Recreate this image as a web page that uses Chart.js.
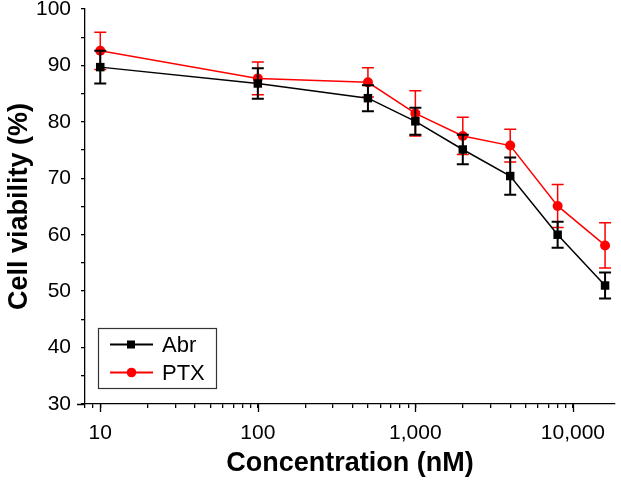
<!DOCTYPE html>
<html>
<head>
<meta charset="utf-8">
<title>Cell viability</title>
<script src="https://cdn.jsdelivr.net/npm/chart.js@4.4.1/dist/chart.umd.min.js"></script>
<style>
  html, body { margin: 0; padding: 0; background: #fff; }
  #wrap { width: 621px; height: 480px; }
</style>
</head>
<body>
<div id="wrap"><canvas id="myChart" width="621" height="480"></canvas></div>
<script>
// data
const concentrations = [10, 100, 500, 1000, 2000, 4000, 8000, 16000];
const abrValues = [89.7, 86.8, 84.2, 80.1, 75.1, 70.4, 60.0, 51.0];
const abrErrors = [2.9, 2.7, 2.3, 2.4, 2.6, 3.3, 2.3, 2.3];
const ptxValues = [92.6, 87.7, 87.0, 81.5, 77.5, 75.8, 65.1, 58.1];
const ptxErrors = [3.3, 2.9, 2.6, 4.0, 3.3, 2.9, 3.8, 4.0];
const xMajorTicks = [10, 100, 1000, 10000];
const yTickLabels = [30, 40, 50, 60, 70, 80, 90, 100];

const FONT = "'Liberation Sans', Arial, sans-serif";

// minor + major ticks for the log axis
var xTicks = [];
[1, 10, 100, 1000].forEach(function (d) {
  for (var m = 1; m <= 9; m++) {
    var v = d * m;
    if (v >= 8 && v <= 10000) xTicks.push(v);
  }
});
xTicks.push(10000);

function points(vals) {
  return concentrations.map(function (c, i) { return {x: c, y: vals[i]}; });
}

// error bars, drawn under each dataset
const errorBars = {
  id: 'errorBars',
  beforeDatasetDraw(chart, args) {
    const ds = chart.data.datasets[args.index];
    const xs = chart.scales.x, ys = chart.scales.y;
    const ctx = chart.ctx;
    ctx.save();
    ctx.strokeStyle = ds.borderColor;
    ctx.lineWidth = ds.errWidth;
    ds.data.forEach(function (p, i) {
      const px = xs.getPixelForValue(p.x);
      const top = ys.getPixelForValue(p.y + ds.errors[i]);
      const bot = ys.getPixelForValue(p.y - ds.errors[i]);
      ctx.beginPath();
      ctx.moveTo(px, top); ctx.lineTo(px, bot);
      ctx.moveTo(px - 6, top); ctx.lineTo(px + 6, top);
      ctx.moveTo(px - 6, bot); ctx.lineTo(px + 6, bot);
      ctx.stroke();
    });
    ctx.restore();
  }
};

// longer major ticks + legend box inside the plot
const extras = {
  id: 'extras',
  afterDraw(chart) {
    const ctx = chart.ctx;
    const xs = chart.scales.x;
    const area = chart.chartArea;
    ctx.save();
    ctx.strokeStyle = '#000';
    ctx.lineWidth = 1.3;
    ctx.beginPath();
    xMajorTicks.forEach(function (v) {
      const px = Math.round(xs.getPixelForValue(v)) + 0.5;
      ctx.moveTo(px, area.bottom); ctx.lineTo(px, area.bottom + 8);
    });
    ctx.moveTo(area.left - 8, area.bottom + 0.5); ctx.lineTo(area.left, area.bottom + 0.5);
    ctx.stroke();

    // legend
    ctx.strokeStyle = '#333';
    ctx.lineWidth = 1.2;
    ctx.strokeRect(98.5, 328.5, 118, 60);
    const rows = [344.5, 372.5];
    chart.data.datasets.forEach(function (ds, i) {
      const y = rows[i];
      ctx.strokeStyle = ds.borderColor;
      ctx.lineWidth = 2;
      ctx.beginPath();
      ctx.moveTo(110, y); ctx.lineTo(153, y);
      ctx.stroke();
      ctx.fillStyle = ds.borderColor;
      if (ds.pointStyle === 'rect') {
        ctx.fillRect(127, y - 4, 8, 8);
      } else {
        ctx.beginPath();
        ctx.arc(131.5, y, 4.8, 0, Math.PI * 2);
        ctx.fill();
      }
      ctx.fillStyle = '#000';
      ctx.font = '22px ' + FONT;
      ctx.textBaseline = 'middle';
      ctx.fillText(ds.label, 162, y + 1);
    });
    ctx.restore();
  }
};

const ctx = document.getElementById('myChart');

new Chart(ctx, {
  type: 'line',
  data: {
    datasets: [{
      label: 'Abr',
      data: points(abrValues),
      errors: abrErrors,
      errWidth: 2,
      borderColor: '#000',
      backgroundColor: '#000',
      borderWidth: 1.5,
      pointStyle: 'rect',
      pointRadius: 6,
      pointBorderWidth: 0
    }, {
      label: 'PTX',
      data: points(ptxValues),
      errors: ptxErrors,
      errWidth: 1.5,
      borderColor: '#ff0000',
      backgroundColor: '#ff0000',
      borderWidth: 1.5,
      pointStyle: 'circle',
      pointRadius: 5,
      pointBorderWidth: 0
    }]
  },
  options: {
    responsive: false,
    animation: false,
    layout: { padding: { top: 9, right: 0, left: 0, bottom: 0 } },
    plugins: {
      legend: { display: false },
      tooltip: { enabled: false }
    },
    scales: {
      x: {
        type: 'logarithmic',
        min: 8,
        max: 18500,
        afterBuildTicks: function (scale) {
          scale.ticks = xTicks.map(function (v) { return {value: v}; });
        },
        afterFit: function (scale) {
          scale.height = 76;
          scale.paddingLeft = 0;
          scale.paddingRight = 0;
        },
        border: { display: true, color: '#000', width: 1.3 },
        grid: { drawOnChartArea: false, drawTicks: true, tickLength: 4, color: '#000', lineWidth: 1.3 },
        ticks: {
          autoSkip: false,
          maxRotation: 0,
          padding: 13,
          color: '#000',
          font: { family: FONT, size: 21 },
          callback: function (value) {
            return xMajorTicks.indexOf(value) >= 0 ? value.toLocaleString('en-US') : '';
          }
        },
        title: {
          display: true,
          text: 'Concentration (nM)',
          color: '#000',
          font: { family: FONT, size: 27, weight: 'bold' },
          padding: { top: 0, bottom: 0 }
        }
      },
      y: {
        min: 30,
        max: 100,
        afterFit: function (scale) {
          scale.width = 85;
          scale.paddingTop = 0;
          scale.paddingBottom = 0;
        },
        border: { display: true, color: '#000', width: 1.3 },
        grid: { drawOnChartArea: false, drawTicks: true, tickLength: 4, color: '#000', lineWidth: 1.3 },
        ticks: {
          stepSize: 5,
          autoSkip: false,
          padding: 10,
          color: '#000',
          font: { family: FONT, size: 21 },
          callback: function (value) {
            return yTickLabels.indexOf(value) >= 0 ? String(value) : '';
          }
        },
        title: {
          display: true,
          text: 'Cell viability (%)',
          color: '#000',
          font: { family: FONT, size: 27, weight: 'bold' },
          padding: { top: 3, bottom: 0 }
        }
      }
    }
  },
  plugins: [errorBars, extras]
});
</script>
</body>
</html>
